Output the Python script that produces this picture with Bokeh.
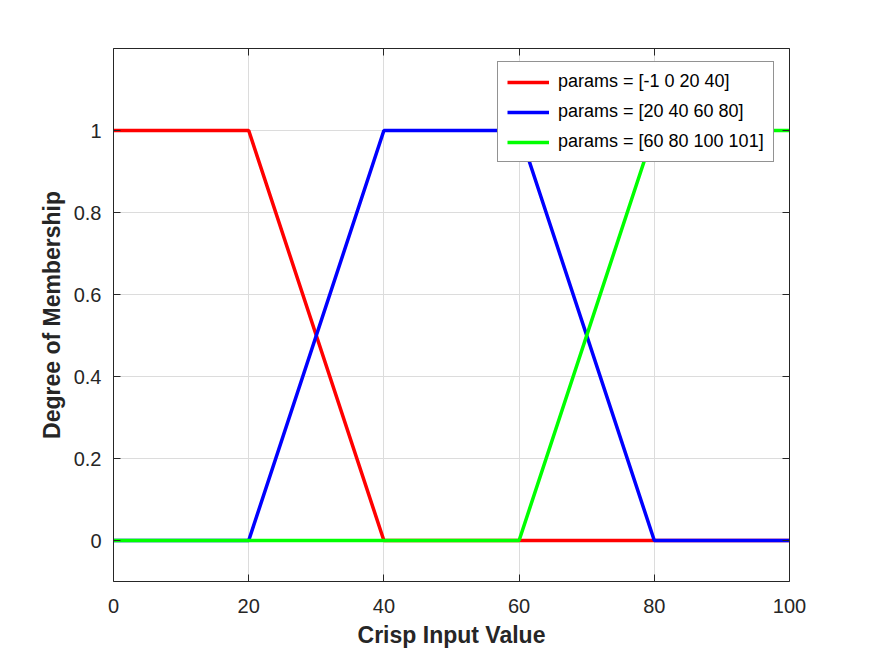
from bokeh.plotting import figure
from bokeh.models import LinearAxis, Range1d, FixedTicker, Legend, LegendItem
from bokeh.embed import file_html
from bokeh.resources import INLINE

# Data
red_x = [0, 20, 40, 100]
red_y = [1, 1, 0, 0]
blue_x = [0, 20, 40, 60, 80, 100]
blue_y = [0, 0, 1, 1, 0, 0]
green_x = [0, 60, 80, 100]
green_y = [0, 0, 1, 1]
labels = ["params = [-1 0 20 40]", "params = [20 40 60 80]", "params = [60 80 100 101]"]
x_ticks = [0, 20, 40, 60, 80, 100]
y_ticks = [0, 0.2, 0.4, 0.6, 0.8, 1]
y_tick_labels = {0: "0", 0.2: "0.2", 0.4: "0.4", 0.6: "0.6", 0.8: "0.8", 1: "1"}

FONT = "Liberation Sans"
TXT = "#262626"

p = figure(width=864, height=652, output_backend="svg", toolbar_location=None,
           x_range=Range1d(0, 100), y_range=Range1d(-0.1, 1.2),
           min_border_left=113, min_border_right=75, min_border_top=48, min_border_bottom=71,
           x_axis_location=None, y_axis_location=None)
p.outline_line_color = None
p.background_fill_color = "white"
p.border_fill_color = "white"

r1 = p.line(red_x, red_y, line_color="#ff0000", line_width=3.5)
r2 = p.line(blue_x, blue_y, line_color="#0000ff", line_width=3.5)
r3 = p.line(green_x, green_y, line_color="#00ff00", line_width=3.5)

def style_axis(ax, ticks, show_labels, standoff=12, overrides=None):
    ax.ticker = FixedTicker(ticks=ticks)
    ax.major_tick_in = 7
    ax.major_tick_out = 0
    ax.minor_tick_in = 0
    ax.minor_tick_out = 0
    ax.axis_line_color = TXT
    ax.axis_line_width = 1
    ax.major_tick_line_color = TXT
    ax.major_label_text_font = FONT
    ax.major_label_text_font_size = "20px"
    ax.major_label_text_color = TXT
    ax.major_label_standoff = standoff
    if overrides:
        ax.major_label_overrides = overrides
    if not show_labels:
        ax.major_label_text_alpha = 0
        ax.major_label_text_font_size = "1px"

xb = LinearAxis(axis_label="Crisp Input Value")
style_axis(xb, x_ticks, True, standoff=17)
xb.axis_label_text_font = FONT
xb.axis_label_text_font_size = "23px"
xb.axis_label_text_font_style = "bold"
xb.axis_label_text_color = TXT
xb.axis_label_standoff = 6
p.add_layout(xb, "below")

yl = LinearAxis(axis_label="Degree of Membership")
style_axis(yl, y_ticks, True, standoff=12, overrides=y_tick_labels)
yl.axis_label_text_font = FONT
yl.axis_label_text_font_size = "23px"
yl.axis_label_text_font_style = "bold"
yl.axis_label_text_color = TXT
yl.axis_label_standoff = 6
p.add_layout(yl, "left")

xt = LinearAxis()
style_axis(xt, x_ticks, False)
p.add_layout(xt, "above")

yr = LinearAxis()
style_axis(yr, y_ticks, False)
p.add_layout(yr, "right")

p.xgrid.ticker = FixedTicker(ticks=x_ticks)
p.ygrid.ticker = FixedTicker(ticks=y_ticks)
p.xgrid.grid_line_color = "#dcdcdc"
p.ygrid.grid_line_color = "#dcdcdc"

legend = Legend(items=[LegendItem(label=labels[0], renderers=[r1]),
                       LegendItem(label=labels[1], renderers=[r2]),
                       LegendItem(label=labels[2], renderers=[r3])],
                location=(384, 419))
legend.label_text_font = FONT
legend.label_text_font_size = "18px"
legend.label_text_color = "black"
legend.border_line_color = TXT
legend.border_line_width = 1
legend.glyph_width = 42
legend.glyph_height = 20
legend.label_height = 20
legend.spacing = 9
legend.padding = 9
legend.margin = 0
legend.label_standoff = 9
legend.background_fill_color = "white"
legend.background_fill_alpha = 1
p.add_layout(legend, "center")

open("out.html", "w").write(file_html(p, INLINE))
